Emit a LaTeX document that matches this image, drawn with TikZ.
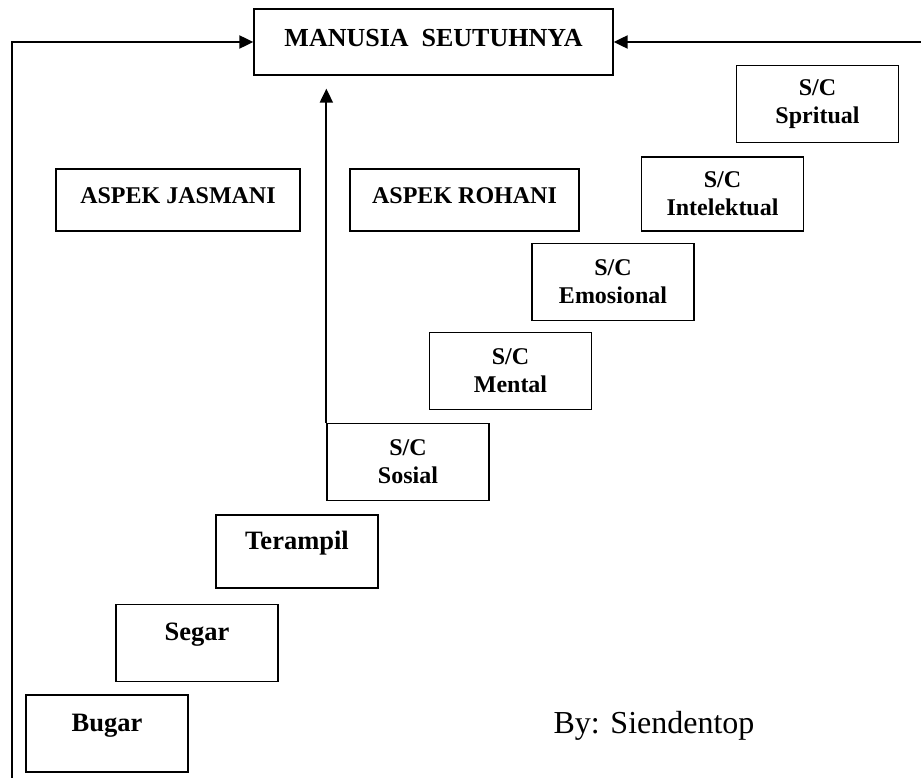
\documentclass[tikz,border=0pt]{standalone}
\usepackage{fontspec}
\setmainfont{Liberation Serif}
\usetikzlibrary{arrows.meta}
\tikzset{
  box/.style={draw, line width=1.3pt, font=\bfseries\fontsize{24}{28}\selectfont, align=center, inner sep=0pt},
  aspek/.style={box, minimum height=62pt, text depth=9pt},
  stepbox/.style={box, minimum width=162pt, minimum height=77pt},
  onestep/.style={stepbox, font=\bfseries\fontsize{26.5}{30}\selectfont, text depth=22pt},
  arr/.style={line width=2pt, -{Triangle[length=14pt,width=13pt]}}
}

\begin{document}
\begin{tikzpicture}[x=1pt,y=-1pt]
        \useasboundingbox (0,0) rectangle (921,778);
        % top box and the two aspects
        \node[box, font=\bfseries\fontsize{26}{30}\selectfont, minimum width=359pt, minimum height=66pt, text depth=8pt] (manusia) at (433.5,42) {MANUSIA\ \ SEUTUHNYA};
        \node[aspek, minimum width=244pt] (jasmani) at (178,200) {ASPEK JASMANI};
        \node[aspek, minimum width=229pt] (rohani) at (464.5,200) {ASPEK ROHANI};
        % the steps
        \node[onestep] (bugar) at (107,733.5) {Bugar};
        \node[onestep] (segar) at (197,643) {Segar};
        \node[onestep, minimum height=73pt] (terampil) at (297,551.5) {Terampil};
        \node[stepbox] (sosial) at (408,462) {S/C\\Sosial};
        \node[stepbox] (mental) at (510.5,371) {S/C\\Mental};
        \node[stepbox] (emosional) at (613,282) {S/C\\Emosional};
        \node[stepbox, minimum height=74pt] (intelektual) at (722.5,194) {S/C\\Intelektual};
        \node[stepbox] (spritual) at (817.5,104) {S/C\\Spritual};
        \node[font=\fontsize{32}{38}\selectfont, anchor=base] (penulis) at (654,733) {By: Siendentop};
        % arrows
        \coordinate (kiri) at (12,778);
        \coordinate (kanan) at (921,42);
        \draw[arr] (kiri) |- (manusia.west);
        \draw[arr] (kanan) -- (manusia.east);
        \draw[arr, shorten >=13pt] (sosial.north west) -- (sosial.north west |- manusia.south);
    \end{tikzpicture}
\end{document}
